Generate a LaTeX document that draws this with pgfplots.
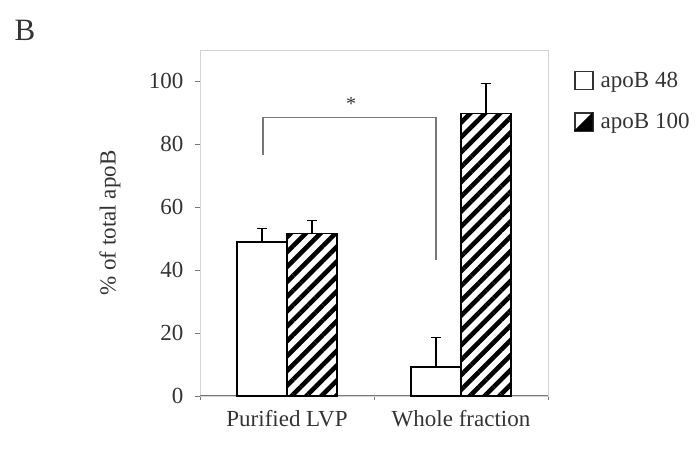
\documentclass[border=0pt]{standalone}
\usepackage{fontspec}
\setmainfont{Liberation Serif}
\usepackage{pgfplots}
\pgfplotsset{compat=1.18}
\usetikzlibrary{patterns.meta}
\definecolor{txt}{HTML}{333333}
\definecolor{frame}{HTML}{D4D4D4}
\definecolor{axisc}{HTML}{777777}
\begin{document}
\begin{tikzpicture}[x=1bp,y=1bp]
\path[use as bounding box] (0,0) rectangle (696,450);
\node[font=\fontsize{31bp}{36bp}\selectfont, text=txt] at (25,420) {B};
\begin{axis}[
  at={(200bp,54bp)}, anchor=south west,
  scale only axis, width=348bp, height=346bp,
  xmin=-0.5, xmax=1.5, ymin=0, ymax=110,
  axis line style={draw=frame},
  xtick={0,1}, xticklabels={Purified LVP, Whole fraction},
  minor xtick={-0.5,0.5,1.5},
  major x tick style={draw=none},
  minor x tick style={draw=axisc},
  ytick={0,20,...,100},
  y tick style={draw=axisc},
  tick align=outside, major tick length=5bp, minor tick length=4bp,
  xtick pos=bottom, ytick pos=left,
  /pgf/number format/assume math mode=true,
  tick label style={font=\fontsize{23bp}{27bp}\selectfont, text=txt},
  xticklabel style={yshift=-6bp},
  yticklabel style={xshift=-8bp},
  ylabel={\% of total apoB},
  ylabel style={at={(axis description cs:-0.259,0.5)}, anchor=center, font=\fontsize{23bp}{27bp}\selectfont, text=txt},
  legend style={at={(axis description cs:1.075,0.943)}, anchor=north west, draw=none, fill=none,
    font=\fontsize{23bp}{27bp}\selectfont, text=txt, row sep=21bp, inner sep=0pt},
  legend cell align=left,
  clip=false,
]
\draw[axisc, line width=1bp] (axis cs:-0.5,0) -- (axis cs:1.5,0);
\addplot[ybar, bar width=0.287, bar shift=0, draw=black, line width=1.5bp, fill=white,
  legend image code/.code={
    \draw[black!80, line width=1.3bp, fill=white] (0bp,-9bp) rectangle (18bp,9bp);
    \path (23bp,0bp);
  },
  error bars/.cd, y dir=plus, y explicit,
  error bar style={line width=1.3bp, black},
  error mark options={rotate=90, mark size=5bp, line width=1.3bp, black},
  ]
  coordinates {(-0.1435,48.9) +- (0,4.4) (0.8565,9.2) +- (0,9.5)};
\addlegendentry{apoB 48}
\addplot[ybar, bar width=0.287, bar shift=0, draw=black, line width=1.5bp,
  pattern={Lines[angle=45, distance=10.5bp, line width=4.6bp]}, pattern color=black,
  legend image code/.code={
    \draw[black!80, line width=1.3bp, fill=white] (0bp,-9bp) rectangle (18bp,9bp);
    \fill[black] (1bp,-8bp) -- (17bp,-8bp) -- (17bp,8bp) -- cycle;
    \path (23bp,0bp);
  },
  error bars/.cd, y dir=plus, y explicit,
  error bar style={line width=1.3bp, black},
  error mark options={rotate=90, mark size=5bp, line width=1.3bp, black},
  ]
  coordinates {(0.1435,51.7) +- (0,4.2) (1.1435,89.8) +- (0,9.6)};
\addlegendentry{apoB 100}
\addplot[no marks, color=axisc, line width=1.3bp, forget plot]
  coordinates {(-0.138,76.5) (-0.138,88.6) (0.856,88.6) (0.856,43.2)};
\node[font=\fontsize{20bp}{24bp}\selectfont, text=txt] at (axis cs:0.368,93.0) {*};
\end{axis}
\end{tikzpicture}
\end{document}
